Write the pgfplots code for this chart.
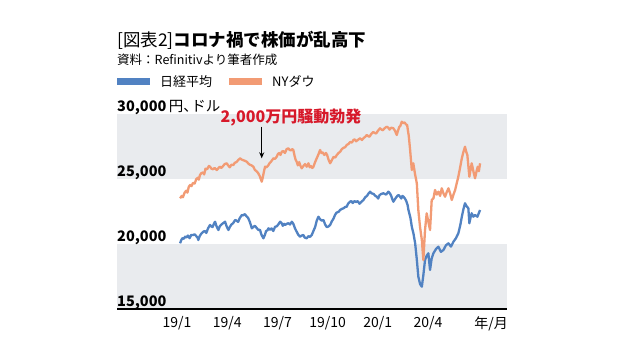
\documentclass[border=0pt]{standalone}
\usepackage{fontspec}
\setmainfont{Noto Sans CJK JP}
\usepackage{pgfplots}
\pgfplotsset{compat=1.18}
\usetikzlibrary{arrows.meta}
\definecolor{nikkei}{HTML}{5182C2}
\definecolor{dow}{HTML}{F29B74}
\definecolor{band}{HTML}{E9EBEE}
\definecolor{anno}{HTML}{D7192A}
\begin{document}
\begin{tikzpicture}
\fill[white] (-117pt,-45pt) rectangle (501pt,309pt);
\path[use as bounding box] (-117pt,-45pt) rectangle (501pt,309pt);
\node[anchor=base west, inner sep=0pt, font=\fontsize{17.5}{20}\selectfont] at (0pt,262pt) {[図表2]\textbf{コロナ禍で株価が乱高下}};
\node[anchor=base west, inner sep=0pt, font=\fontsize{12.5}{15}\selectfont] at (0pt,244.5pt) {資料：Refinitivより筆者作成};
\begin{axis}[
  scale only axis, width=390pt, height=195pt,
  xmin=-3.59, xmax=19.72, ymin=15000, ymax=30000,
  clip=false, axis on top,
  scaled y ticks=false, scaled x ticks=false,
  axis x line*=bottom, axis y line*=left,
  y axis line style={draw=none},
  x axis line style={line width=1.2pt, black},
  major tick length=0pt,
  xtick={0,3,6,9,12,15},
  xticklabels={19/1,19/4,19/7,19/10,20/1,20/4},
  extra x ticks={18.77},
  extra x tick labels={年/月},
  extra x tick style={major tick length=0pt},
  xticklabel style={font=\fontsize{14}{16}\selectfont, inner sep=0pt, yshift=-7pt},
  ytick={15000,20000,25000,30000},
  yticklabels={{\textbf{15,000}},{\textbf{20,000}},{\textbf{25,000}},{\textbf{30,000}\,円、\hspace{-0.45em}ドル}},
  yticklabel style={anchor=base west, inner sep=0pt, yshift=3pt, font=\fontsize{14.5}{16}\selectfont},
  legend columns=2,
  legend style={at={(axis description cs:0,1)}, anchor=west, yshift=32.5pt,
    draw=none, fill=none, inner sep=0pt, font=\fontsize{13}{15}\selectfont,
    column sep=8pt, /tikz/every even column/.append style={column sep=15pt}},
  legend image code/.code={\fill[draw=none] (0pt,-3.5pt) rectangle (33pt,3.5pt);},
]
\fill[band] (axis cs:-3.59,25000) rectangle (axis cs:19.72,30000);
\fill[band] (axis cs:-3.59,15000) rectangle (axis cs:19.72,20000);
\addplot[nikkei, line width=2.3pt, line join=round] coordinates {
(0.18,20054)(0.25,20300)(0.32,20450)(0.40,20400)(0.48,20562)(0.55,20500)(0.65,20650)(0.75,20450)(0.85,20700)(0.97,20692)(1.05,20750)(1.15,20600)(1.22,20500)(1.27,20308)(1.35,20600)(1.45,20800)(1.57,20946)(1.65,21000)(1.75,20850)(1.85,21200)(1.97,21462)(2.05,21350)(2.12,21300)(2.20,21550)(2.27,21715)(2.35,21400)(2.42,21200)(2.47,21077)(2.55,21350)(2.65,21500)(2.75,21600)(2.87,21715)(2.95,21400)(3.02,21200)(3.07,21077)(3.15,21300)(3.25,21500)(3.35,21600)(3.47,21846)(3.55,21800)(3.65,21700)(3.75,22000)(3.87,22231)(3.95,22200)(4.05,22300)(4.17,22100)(4.25,22000)(4.35,21700)(4.47,21208)(4.55,21300)(4.65,21400)(4.75,21250)(4.86,21077)(4.95,21100)(5.05,20700)(5.16,20438)(5.25,20700)(5.32,21000)(5.40,21050)(5.46,21208)(5.55,21100)(5.65,21200)(5.75,21000)(5.86,21331)(5.95,21350)(6.05,21500)(6.16,21715)(6.25,21600)(6.32,21400)(6.40,21550)(6.46,21462)(6.55,21550)(6.65,21600)(6.75,21500)(6.86,21715)(6.95,21550)(7.05,21200)(7.15,20946)(7.25,20700)(7.35,20562)(7.45,20650)(7.55,20700)(7.62,20500)(7.75,20438)(7.85,20600)(7.95,20550)(8.05,20692)(8.15,21000)(8.25,21300)(8.35,21800)(8.45,22100)(8.55,21900)(8.65,21800)(8.75,21846)(8.85,21500)(8.95,21300)(9.05,21350)(9.15,21462)(9.25,21750)(9.35,21950)(9.44,22231)(9.52,22400)(9.60,22450)(9.68,22500)(9.74,22615)(9.85,22700)(9.95,22750)(10.05,22850)(10.14,22869)(10.22,23100)(10.34,23254)(10.42,23300)(10.50,23150)(10.60,23300)(10.70,23231)(10.80,23300)(10.90,23100)(11.02,23250)(11.14,23385)(11.25,23600)(11.35,23700)(11.45,23900)(11.54,24023)(11.62,23900)(11.75,23850)(11.85,23700)(11.94,23638)(12.02,23500)(12.10,23750)(12.20,23850)(12.33,23900)(12.42,23850)(12.50,23800)(12.58,23950)(12.63,24023)(12.72,23900)(12.80,23700)(12.88,23400)(12.93,23254)(13.00,23400)(13.10,23600)(13.17,23700)(13.23,23769)(13.32,23650)(13.40,23500)(13.47,23700)(13.53,23638)(13.62,23500)(13.70,23300)(13.78,23000)(13.83,22615)(13.95,22000)(14.03,21331)(14.13,20800)(14.23,20054)(14.33,18800)(14.42,17485)(14.53,16900)(14.63,16715)(14.72,17600)(14.82,18769)(14.92,19100)(15.02,19285)(15.12,18000)(15.22,18900)(15.32,19285)(15.47,19600)(15.62,19792)(15.77,19400)(15.92,19538)(16.07,19900)(16.22,20054)(16.37,19800)(16.52,20177)(16.67,20450)(16.81,20823)(16.92,21400)(17.02,22100)(17.12,22700)(17.21,23131)(17.31,22900)(17.41,22746)(17.47,21592)(17.55,22100)(17.61,22362)(17.71,22100)(17.81,22231)(17.95,22100)(18.11,22615)
};
\addlegendentry{日経平均}
\addplot[dow, line width=2.3pt, line join=round] coordinates {
(0.18,23516)(0.28,23700)(0.35,23600)(0.45,23950)(0.55,24100)(0.62,23950)(0.70,24400)(0.78,24539)(0.86,24450)(0.95,24700)(1.05,24650)(1.15,25000)(1.25,25100)(1.30,24950)(1.37,25308)(1.45,25450)(1.55,25500)(1.62,25350)(1.70,25800)(1.80,25750)(1.90,26000)(1.97,25946)(2.05,25800)(2.15,25750)(2.25,25850)(2.37,25692)(2.45,25800)(2.55,25950)(2.65,25850)(2.75,26000)(2.85,26150)(2.97,26208)(3.05,26050)(3.15,25900)(3.25,26100)(3.37,26077)(3.45,26250)(3.55,26300)(3.65,26450)(3.77,26592)(3.85,26500)(3.95,26450)(4.05,26400)(4.17,26331)(4.25,26200)(4.35,26100)(4.45,26050)(4.56,25946)(4.65,25700)(4.75,25600)(4.85,25450)(4.95,25200)(5.06,24792)(5.12,25100)(5.18,25500)(5.26,25946)(5.35,25900)(5.45,26050)(5.52,26200)(5.60,26300)(5.68,26450)(5.76,26592)(5.85,26550)(5.95,26700)(6.02,26900)(6.10,27000)(6.18,26850)(6.26,27100)(6.35,27150)(6.45,27000)(6.55,27300)(6.65,27362)(6.72,27250)(6.80,27200)(6.88,27300)(6.95,27231)(7.02,26800)(7.08,26500)(7.15,26331)(7.22,26050)(7.30,26300)(7.38,26000)(7.45,25823)(7.55,26000)(7.65,26150)(7.75,25950)(7.85,26208)(7.93,25900)(8.00,26000)(8.08,25850)(8.15,25946)(8.25,26300)(8.35,26600)(8.45,26900)(8.55,27231)(8.62,27000)(8.70,27050)(8.80,26850)(8.90,27000)(8.97,26846)(9.05,26500)(9.15,26208)(9.25,26450)(9.35,26700)(9.45,26650)(9.55,26846)(9.65,27000)(9.75,27100)(9.85,27300)(9.95,27400)(10.05,27450)(10.14,27615)(10.25,27700)(10.35,27850)(10.45,27800)(10.54,28000)(10.62,28050)(10.70,27900)(10.80,28000)(10.94,28131)(11.05,28000)(11.15,28150)(11.25,28250)(11.34,28385)(11.42,28300)(11.50,28250)(11.60,28450)(11.72,28615)(11.80,28550)(11.90,28500)(12.00,28700)(12.13,28900)(12.22,28800)(12.30,28750)(12.40,28900)(12.53,29023)(12.62,28950)(12.70,28800)(12.80,28950)(12.93,28900)(13.03,28700)(13.13,28385)(13.20,28700)(13.28,29000)(13.35,29100)(13.43,29408)(13.50,29300)(13.60,29350)(13.68,29200)(13.75,29154)(13.85,28300)(13.93,27231)(14.03,25692)(14.12,26208)(14.22,25400)(14.33,24669)(14.42,22615)(14.52,21331)(14.63,20308)(14.72,18769)(14.82,21077)(14.92,22362)(15.02,21700)(15.12,21077)(15.22,23385)(15.32,23500)(15.42,24154)(15.52,23800)(15.62,24023)(15.72,23700)(15.82,24285)(15.92,23900)(16.02,23638)(16.12,24000)(16.22,24285)(16.32,23900)(16.42,23385)(16.52,23800)(16.62,24154)(16.72,24700)(16.81,25177)(16.92,25900)(17.02,26592)(17.12,27100)(17.21,27485)(17.28,27100)(17.35,26846)(17.47,25177)(17.55,25800)(17.61,26208)(17.71,25600)(17.81,25054)(17.9,25600)(17.97,25946)(18.04,25600)(18.11,26208)
};
\addlegendentry{NYダウ}
\node[anno, anchor=base, inner sep=0pt, font=\bfseries\fontsize{16}{18}\selectfont] at (axis cs:6.81,29350) {2,000万円騒動勃発};
\draw[black, line width=0.9pt, -{Stealth[length=6pt,width=5pt]}] (axis cs:5.06,29023) -- (axis cs:5.06,26592);
\end{axis}
\end{tikzpicture}
\end{document}
